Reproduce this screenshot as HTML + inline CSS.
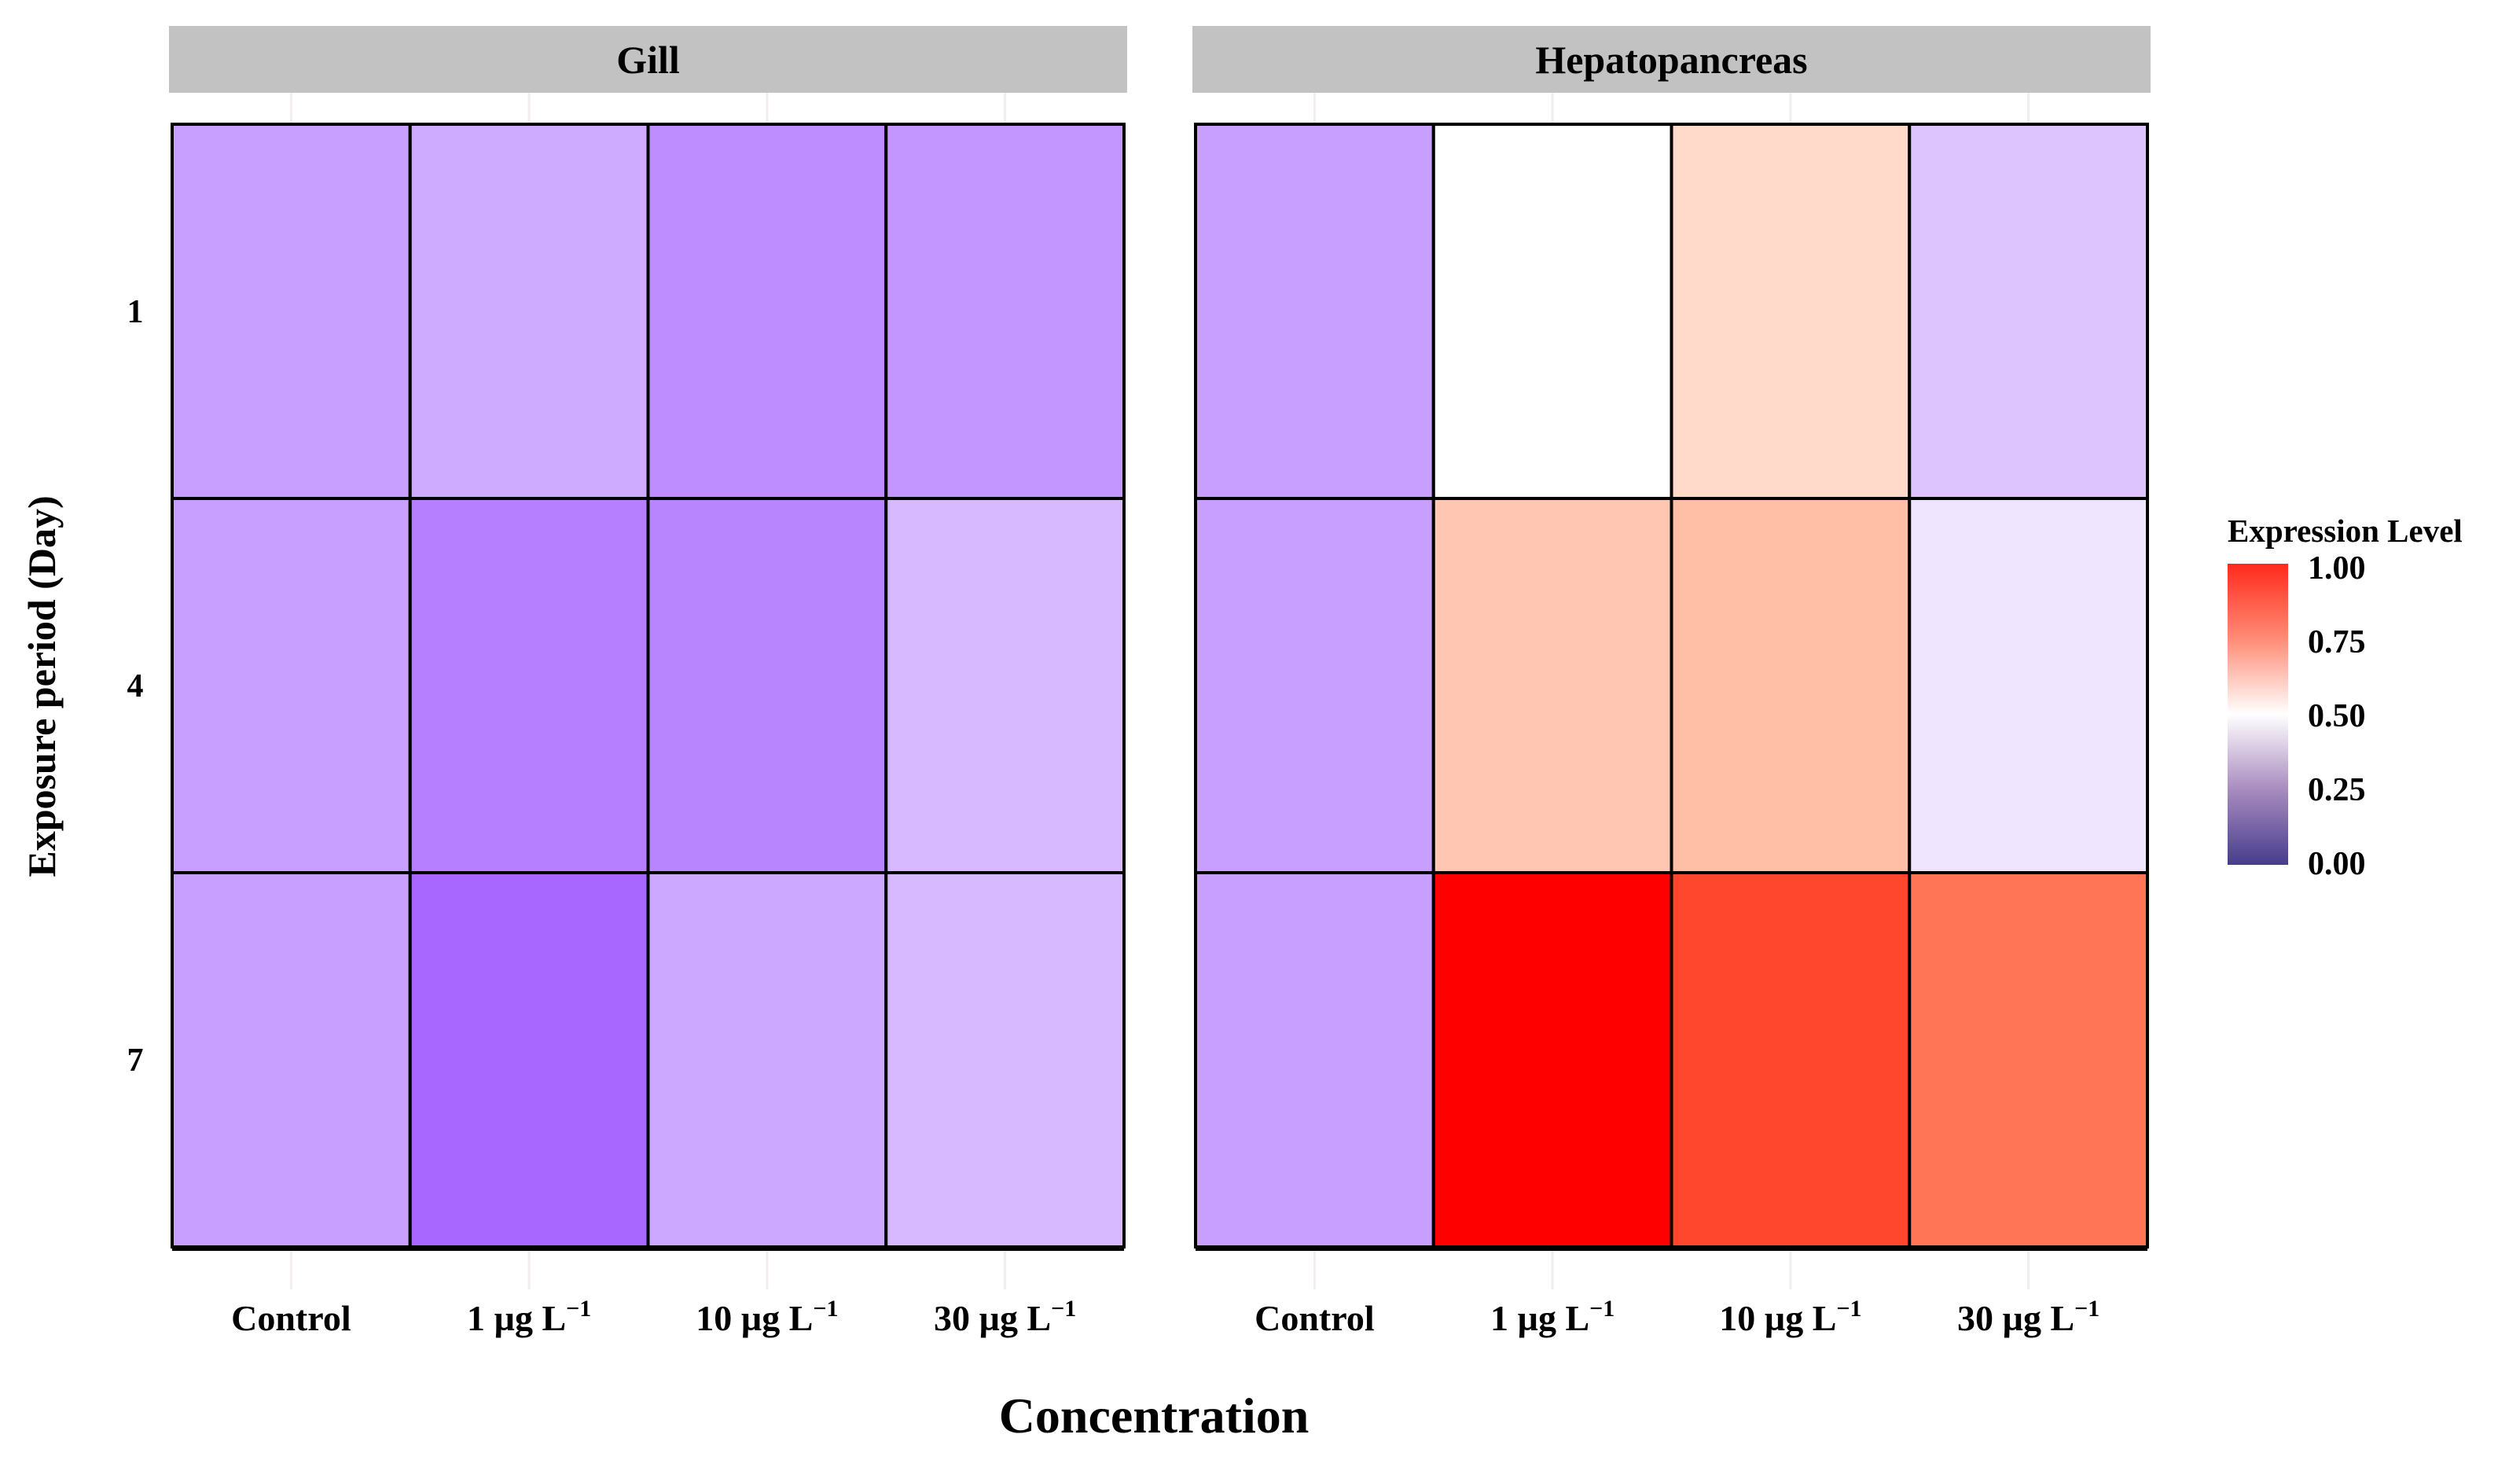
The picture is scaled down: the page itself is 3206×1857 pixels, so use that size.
<!DOCTYPE html>
<html><head><meta charset="utf-8"><style>
html,body{margin:0;padding:0;background:#fff;}
svg{display:block;font-family:"Liberation Serif",serif;}
</style></head><body>
<svg id="chart" width="3206" height="1857" viewBox="0 0 3206 1857" xmlns="http://www.w3.org/2000/svg">
<defs>
<linearGradient id="cbar" x1="0" y1="1" x2="0" y2="0">
<stop offset="0" stop-color="#463d8c"/>
<stop offset="0.25" stop-color="#a88bbf"/>
<stop offset="0.5" stop-color="#ffffff"/>
<stop offset="0.75" stop-color="#ff8c76"/>
<stop offset="1" stop-color="#ff2a1c"/>
</linearGradient>
</defs>
<g id="plot"></g>
<g>
<text x="2834" y="689" font-size="41" font-weight="bold">Expression Level</text>
<rect x="2834" y="717" width="77" height="383" fill="url(#cbar)"/>
<g id="legendTicks" font-size="42" font-weight="bold"></g>
</g>
<text x="1468" y="1822" font-size="64" font-weight="bold" text-anchor="middle">Concentration</text>
<text transform="translate(70,873) rotate(-90)" font-size="50" font-weight="bold" text-anchor="middle">Exposure period (Day)</text>
</svg>
<script>
const categories = ["Control", "1", "10", "30"];
const days = ["1", "4", "7"];
const panels = ["Gill", "Hepatopancreas"];
const gillValues = [
  [0.225, 0.26, 0.175, 0.20],
  [0.225, 0.135, 0.15, 0.30],
  [0.225, 0.065, 0.25, 0.30]
];
const hepatoValues = [
  [0.225, 0.50, 0.575, 0.33],
  [0.225, 0.61, 0.625, 0.425],
  [0.225, 1.00, 0.86, 0.77]
];
const legendTicks = [0, 0.25, 0.5, 0.75, 1];
const legendLabels = ["0.00", "0.25", "0.50", "0.75", "1.00"];

const NS = "http://www.w3.org/2000/svg";
const plot = document.getElementById('plot');
const panelX = [219, 1521];
const panelW = 1211;
const top0 = 158, bottom0 = 1586;
function xScale(p, i){ return panelX[p] + i * panelW / categories.length; }
function yScale(j){ return top0 + j * (bottom0 - top0) / days.length; }
function lerp(a,b,t){ return Math.round(a+(b-a)*t); }
function colorScale(v){
  if (v <= 0.5){
    const t = (0.5 - v) / 0.5;
    return `rgb(${lerp(255,155,t)},${lerp(255,80,t)},${lerp(255,255,t)})`;
  }
  const t = (v - 0.5) / 0.5;
  const g = lerp(255,0,t);
  const b = Math.round(g * (1 - 0.5*t));
  return `rgb(255,${g},${b})`;
}
function mk(tag, attrs){ const e = document.createElementNS(NS, tag); for (const k in attrs) e.setAttribute(k, attrs[k]); return e; }

const dataSets = [gillValues, hepatoValues];
const cw = panelW / categories.length, ch = (bottom0 - top0) / days.length;
panels.forEach((name, p) => {
  const strip = mk('rect', {x: panelX[p]-4, y: 33, width: panelW+8, height: 85, fill: '#c2c2c2'});
  
  
  plot.appendChild(strip);
  const st = mk('text', {x: panelX[p] + panelW/2, y: 93, 'font-size': 50, 'font-weight': 'bold', 'text-anchor': 'middle'});
  st.textContent = name;
  
  
  plot.appendChild(st);
  categories.forEach((c, i) => {
    const gx = xScale(p, i) + cw/2;
    const g1 = mk('line', {x1: gx, y1: 118, x2: gx, y2: 158, stroke: '#f3eded', 'stroke-width': 3});
    
    
    plot.appendChild(g1);
    const g2 = mk('line', {x1: gx, y1: 1590, x2: gx, y2: 1640, stroke: '#f3eded', 'stroke-width': 3});
    
    
    plot.appendChild(g2);
  });
  dataSets[p].forEach((row, j) => {
    row.forEach((v, i) => {
      const r = mk('rect', {x: xScale(p, i), y: yScale(j), width: cw, height: ch, fill: colorScale(v), stroke: '#000', 'stroke-width': 4});
      
      
      plot.appendChild(r);
    });
  });
  const bb = mk('line', {x1: panelX[p], y1: bottom0+2, x2: panelX[p]+panelW, y2: bottom0+2, stroke: '#000', 'stroke-width': 6});
  
  
  plot.appendChild(bb);
  categories.forEach((c, i) => {
    const t = mk('text', {x: xScale(p, i) + cw/2, y: 1692, 'font-size': 46, 'font-weight': 'bold', 'text-anchor': 'middle'});
    if (c === 'Control') { t.textContent = 'Control'; }
    else {
      t.textContent = c + ' \u00b5g L';
      const sup = mk('tspan', {dy: -18, 'font-size': 30});
      sup.textContent = '\u22121';
      t.appendChild(sup);
    }
    
    
    plot.appendChild(t);
  });
});
days.forEach((d, j) => {
  const t = mk('text', {x: 172, y: yScale(j) + ch/2 + 14, 'font-size': 42, 'font-weight': 'bold', 'text-anchor': 'middle'});
  t.textContent = d;
  
  
  plot.appendChild(t);
});
const lg = document.getElementById('legendTicks');
legendTicks.forEach((v, k) => {
  const y = 1097 - v * (1097 - 721);
  const t = mk('text', {x: 2936, y: y + 15});
  t.textContent = legendLabels[k];
  
  
  lg.appendChild(t);
});
</script>
</body></html>
